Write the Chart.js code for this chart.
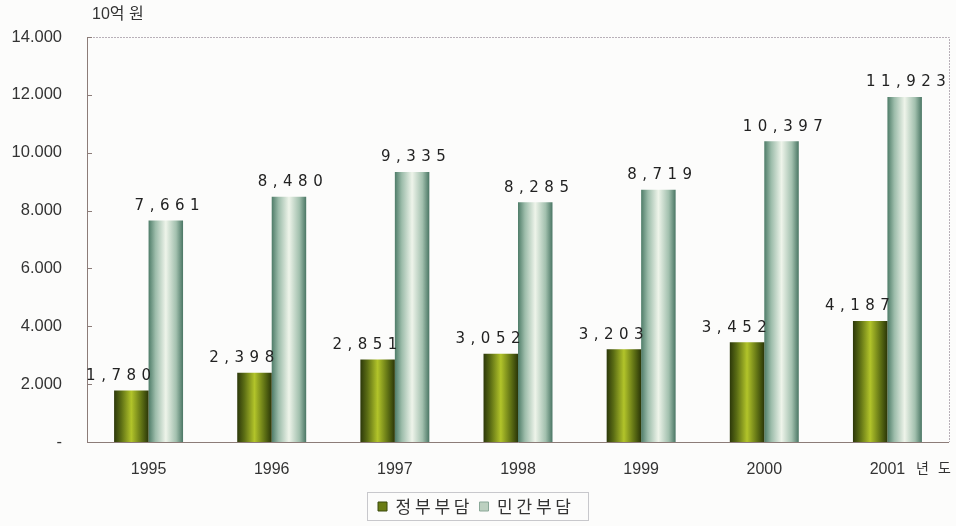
<!DOCTYPE html>
<html>
<head>
<meta charset="utf-8">
<script src="https://cdn.jsdelivr.net/npm/chart.js@4/dist/chart.umd.min.js"></script>
<style>
  html, body { margin: 0; padding: 0; background: #fcfcfb; }
  #wrap { position: relative; width: 956px; height: 526px; }
</style>
</head>
<body>
<div id="wrap"><canvas id="fundChart" width="956" height="526"></canvas></div>
<script>
// 연도별 연구개발비 부담 (단위: 10억 원)
const years = ['1995', '1996', '1997', '1998', '1999', '2000', '2001'];
const govShare = [1780, 2398, 2851, 3052, 3203, 3452, 4187];
const privateShare = [7661, 8480, 9335, 8285, 8719, 10397, 11923];
const seriesNames = ['정 부 부 담', '민 간 부 담'];
const unitLabel = '10억 원';
const yearSuffix = '년 도';

function fmtComma(v) {
    return v.toLocaleString('en-US');
}
function fmtDot(v) {
    return v === 0 ? '-' : v.toLocaleString('en-US').replace(',', '.');
}

// gradient bars, like cylinders
const barShading = {
    id: 'barShading',
    beforeDatasetsDraw(chart) {
        const ctx = chart.ctx;
        chart.data.datasets.forEach((ds, di) => {
            const meta = chart.getDatasetMeta(di);
            meta.data.forEach(bar => {
                const l = bar.x - bar.width / 2, r = bar.x + bar.width / 2;
                const g = ctx.createLinearGradient(l, 0, r, 0);
                if (di === 0) {
                    g.addColorStop(0, '#2c380a');
                    g.addColorStop(0.2, '#5a6c14');
                    g.addColorStop(0.5, '#b2c42a');
                    g.addColorStop(0.8, '#5e7014');
                    g.addColorStop(1, '#2a3608');
                } else {
                    g.addColorStop(0, '#4e7c68');
                    g.addColorStop(0.2, '#9cbcaa');
                    g.addColorStop(0.5, '#eef4ea');
                    g.addColorStop(0.8, '#a2c0ae');
                    g.addColorStop(1, '#4a7664');
                }
                // options object is shared between bars, so copy it
                bar.options = Object.assign({}, bar.options, { backgroundColor: g });
            });
        });
    }
};

// value labels, frame, unit text
const extras = {
    id: 'extras',
    afterDatasetsDraw(chart) {
        const ctx = chart.ctx;
        const a = chart.chartArea;
        ctx.save();
        // frame
        ctx.lineWidth = 1;
        ctx.strokeStyle = '#b8b0b8';
        ctx.setLineDash([2, 1]);
        ctx.beginPath();
        ctx.moveTo(a.left, a.top + 0.5);
        ctx.lineTo(a.right + 0.5, a.top + 0.5);
        ctx.lineTo(a.right + 0.5, a.bottom);
        ctx.stroke();
        ctx.setLineDash([]);
        ctx.strokeStyle = '#8c7c78';
        ctx.beginPath();
        ctx.moveTo(a.left + 0.5, a.top);
        ctx.lineTo(a.left + 0.5, a.bottom + 0.5);
        ctx.lineTo(a.right, a.bottom + 0.5);
        ctx.stroke();
        // y tick marks inside
        const ys = chart.scales.y;
        ys.ticks.forEach(t => {
            const py = Math.round(ys.getPixelForValue(t.value)) + 0.5;
            ctx.beginPath();
            ctx.moveTo(a.left, py);
            ctx.lineTo(a.left + 5, py);
            ctx.stroke();
        });

        // value labels
        ctx.fillStyle = '#222';
        ctx.font = '15px "DejaVu Sans"';
        ctx.letterSpacing = '5.5px';
        ctx.textAlign = 'center';
        ctx.textBaseline = 'bottom';
        const shift = [-10, 4];
        chart.data.datasets.forEach((ds, di) => {
            chart.getDatasetMeta(di).data.forEach((bar, i) => {
                ctx.fillText(fmtComma(ds.data[i]), bar.x + shift[di], bar.y - 7);
            });
        });
        ctx.letterSpacing = '0px';

        // unit and year suffix
        ctx.fillStyle = '#333';
        ctx.font = '16px "Liberation Sans", "Noto Sans CJK KR"';
        ctx.textAlign = 'left';
        ctx.textBaseline = 'middle';
        ctx.fillText(unitLabel, 92, 15);
        ctx.font = '14px "Noto Sans CJK KR"';
        ctx.letterSpacing = '3px';
        ctx.fillText(yearSuffix, 916, 468);
        ctx.restore();
    }
};

// border around legend
const legendBox = {
    id: 'legendBox',
    afterDraw(chart) {
        const ctx = chart.ctx;
        ctx.save();
        ctx.strokeStyle = '#c8c8cc';
        ctx.lineWidth = 1;
        ctx.strokeRect(367.5, 492.5, 221, 28);
        ctx.restore();
    }
};

const ctx = document.getElementById('fundChart').getContext('2d');
const fundChart = new Chart(ctx, {
    type: 'bar',
    data: {
        labels: years,
        datasets: [{
            label: seriesNames[0],
            data: govShare,
            backgroundColor: '#8a9c1c'
        }, {
            label: seriesNames[1],
            data: privateShare,
            backgroundColor: '#c4d8cc'
        }]
    },
    options: {
        responsive: false,
        animation: false,
        layout: { padding: { left: 0, right: 7, top: 37, bottom: 1 } },
        categoryPercentage: 0.56,
        barPercentage: 1.0,
        scales: {
            x: {
                grid: { display: false },
                border: { display: false },
                ticks: {
                    color: '#333',
                    font: { family: 'Liberation Sans', size: 16 },
                    padding: 10
                },
                afterFit(scale) { scale.height = 46; }
            },
            y: {
                min: 0,
                max: 14000,
                grid: { display: false },
                border: { display: false },
                ticks: {
                    stepSize: 2000,
                    color: '#333',
                    font: { family: 'Liberation Sans', size: 16.5 },
                    padding: 17,
                    callback: v => fmtDot(v)
                },
                afterFit(scale) { scale.width = 87; }
            }
        },
        plugins: {
            tooltip: { enabled: false },
            legend: {
                position: 'bottom',
                labels: {
                    color: '#333',
                    font: { family: 'Noto Sans CJK KR', size: 17 },
                    boxWidth: 9,
                    boxHeight: 9,
                    padding: 10,
                    generateLabels(chart) {
                        return chart.data.datasets.map((ds, i) => ({
                            text: ds.label,
                            fillStyle: i === 0 ? '#6a7c14' : '#bcd0c0',
                            strokeStyle: i === 0 ? '#3a4a0c' : '#8aa898',
                            lineWidth: 1,
                            fontColor: '#333',
                            datasetIndex: i
                        }));
                    }
                }
            }
        }
    },
    plugins: [barShading, extras, legendBox]
});
</script>
</body>
</html>
